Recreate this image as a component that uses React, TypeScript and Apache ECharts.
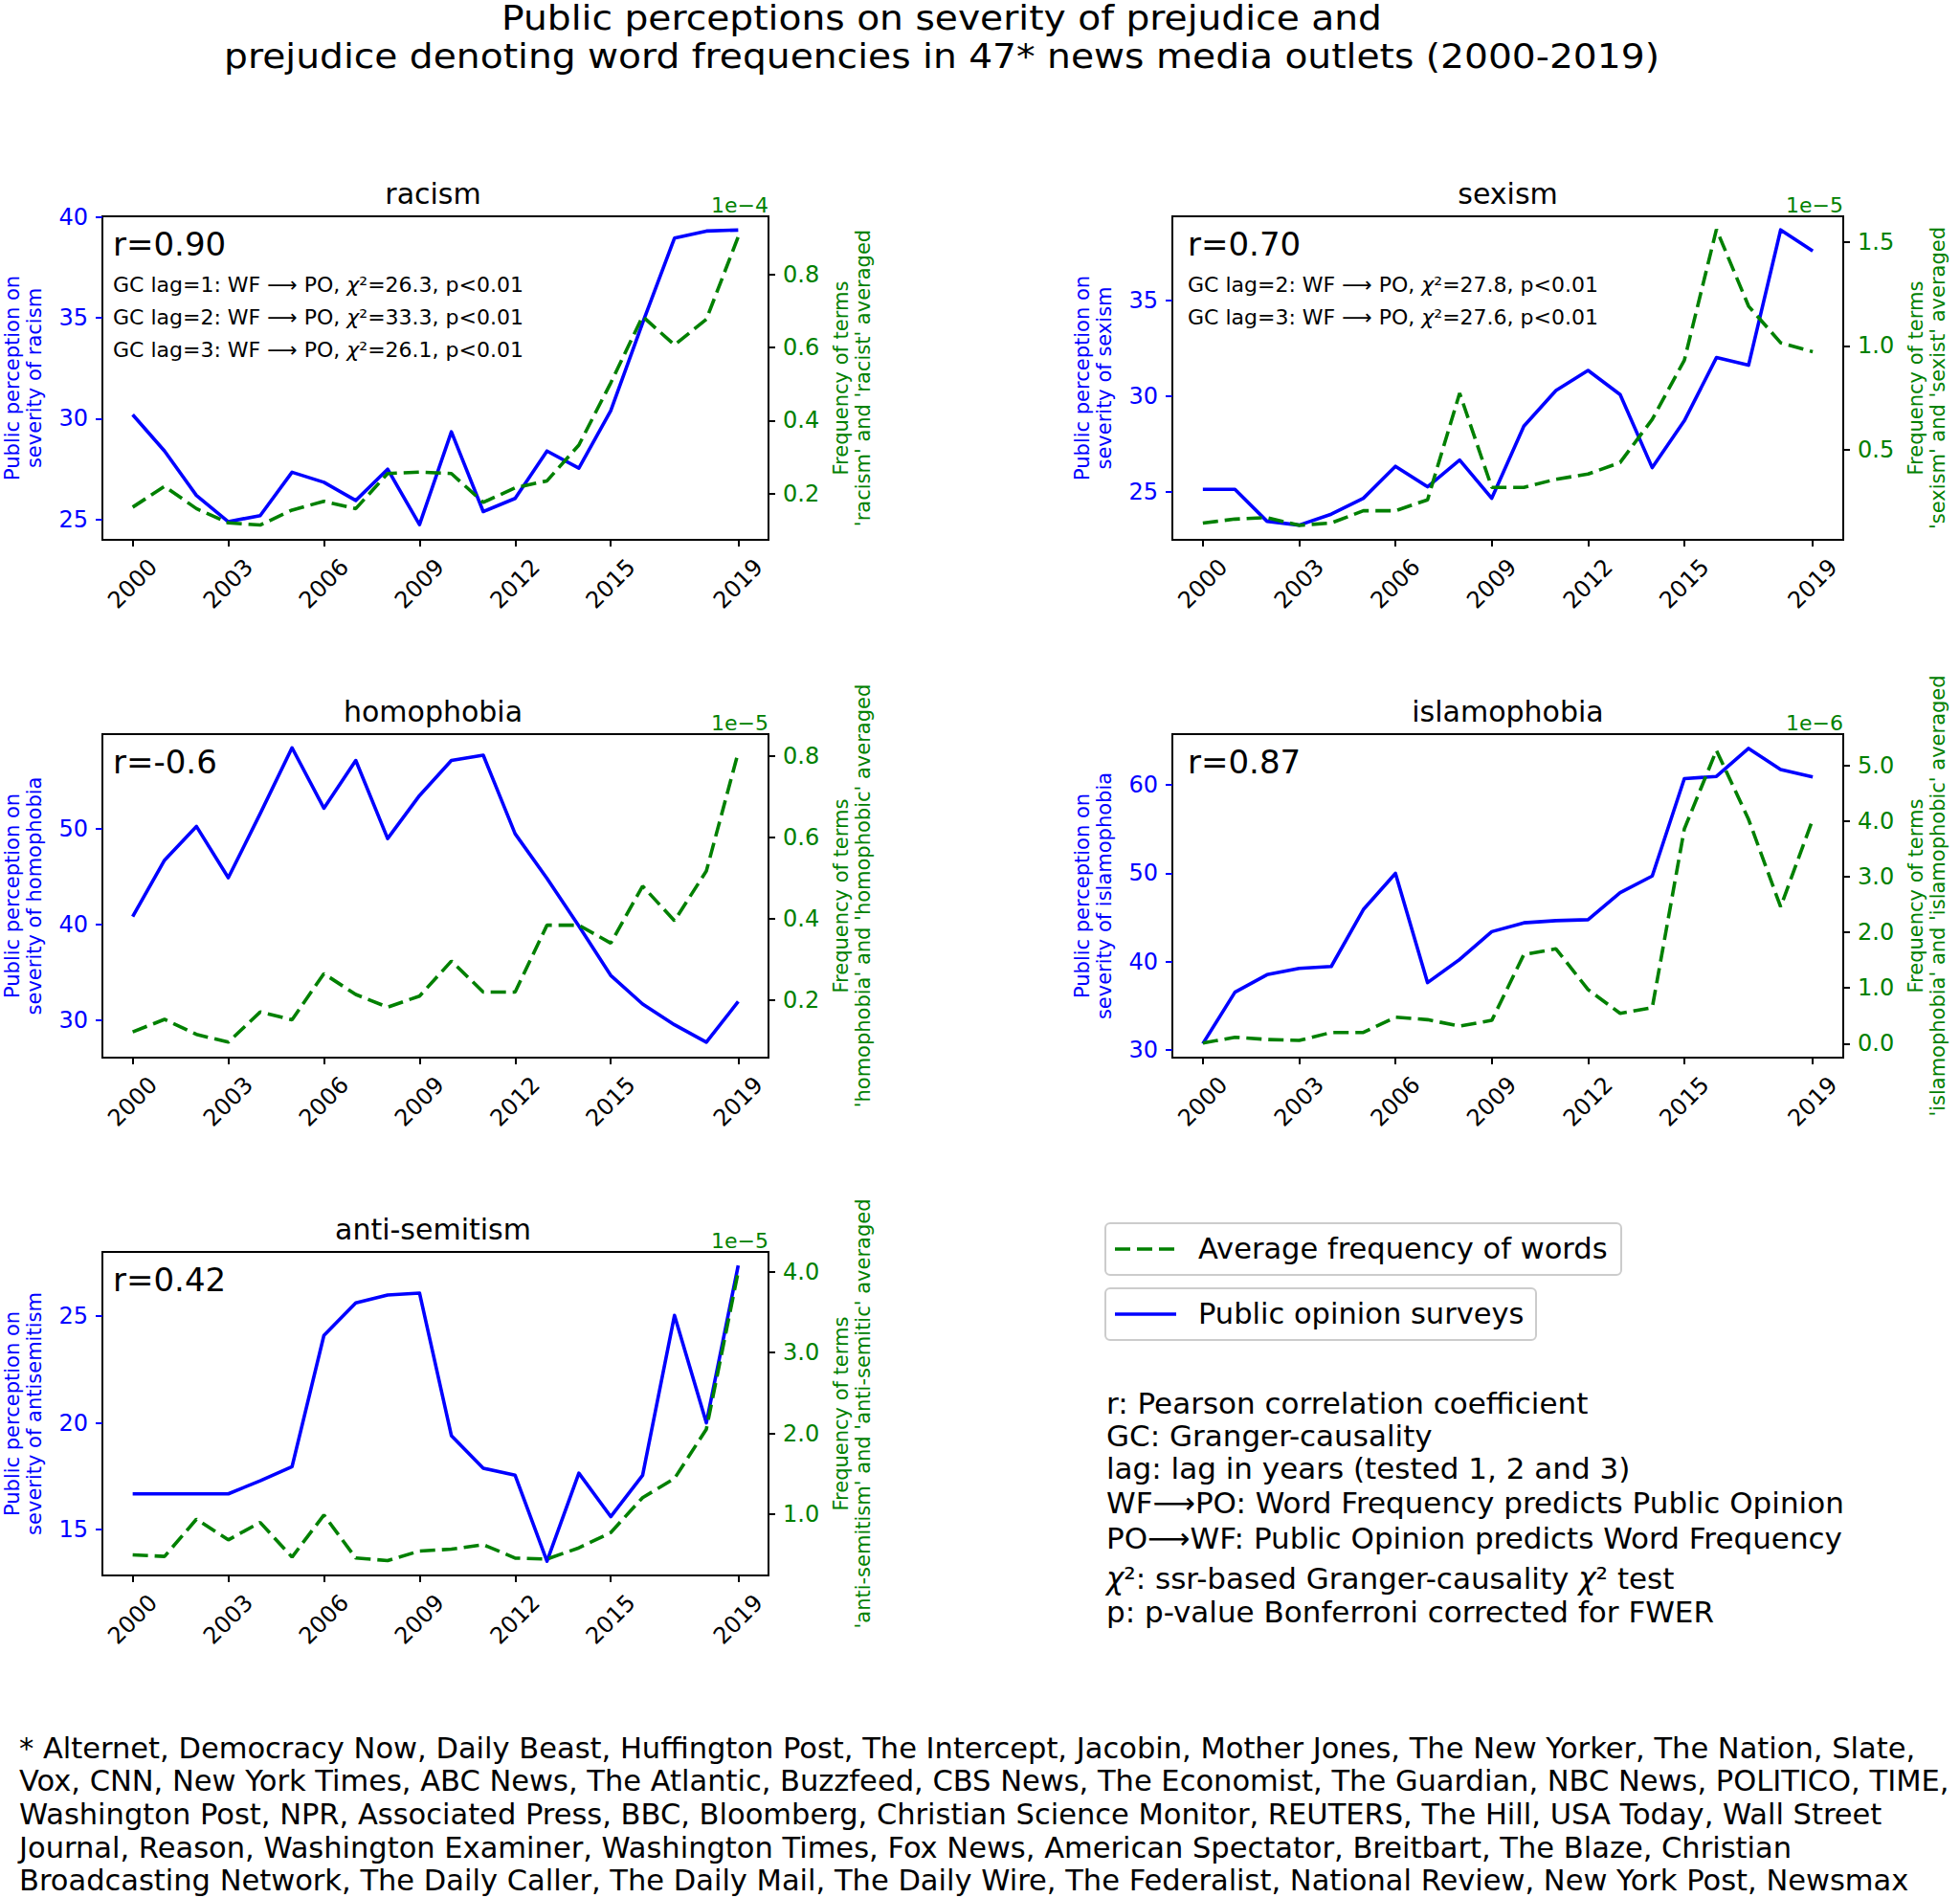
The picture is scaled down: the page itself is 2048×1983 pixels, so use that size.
import React, { useEffect, useRef } from 'react';
import * as echarts from 'echarts';

const FONT = '"DejaVu Sans", sans-serif';
const BLUE = '#0000ff';
const GREEN = '#008000';

const years = [2000, 2001, 2002, 2003, 2004, 2005, 2006, 2007, 2008, 2009, 2010, 2011, 2012, 2013, 2014, 2015, 2016, 2017, 2018, 2019];
const xTickYears = [2000, 2003, 2006, 2009, 2012, 2015, 2019];

// Public opinion (left axis) and word frequency (right axis, scaled by the offset shown above the axis)
const racismPO = [30.2, 28.4, 26.2, 24.9, 25.2, 27.35, 26.85, 25.95, 27.5, 24.75, 29.35, 25.4, 26.05, 28.4, 27.55, 30.4, 34.75, 38.95, 39.3, 39.35];
const racismWF = [0.163, 0.22, 0.159, 0.12, 0.114, 0.155, 0.179, 0.159, 0.255, 0.259, 0.255, 0.176, 0.216, 0.235, 0.333, 0.503, 0.685, 0.607, 0.677, 0.903];
const sexismPO = [25.12, 25.12, 23.45, 23.25, 23.82, 24.65, 26.32, 25.25, 26.65, 24.65, 28.42, 30.28, 31.33, 30.07, 26.25, 28.7, 32.0, 31.6, 38.67, 37.57];
const sexismWF = [0.146, 0.165, 0.172, 0.135, 0.146, 0.205, 0.205, 0.258, 0.772, 0.318, 0.318, 0.357, 0.382, 0.438, 0.646, 0.931, 1.562, 1.192, 1.015, 0.972];
const homophobiaPO = [40.83, 46.73, 50.27, 44.9, 51.6, 58.5, 52.17, 57.17, 49.0, 53.5, 57.17, 57.73, 49.5, 44.83, 39.83, 34.67, 31.67, 29.5, 27.67, 31.93];
const homophobiaWF = [0.122, 0.153, 0.116, 0.097, 0.171, 0.152, 0.265, 0.214, 0.183, 0.21, 0.296, 0.22, 0.22, 0.384, 0.384, 0.34, 0.48, 0.395, 0.517, 0.808];
const islamophobiaPO = [30.72, 36.55, 38.53, 39.25, 39.46, 45.9, 50.0, 37.63, 40.25, 43.4, 44.4, 44.65, 44.76, 47.82, 49.7, 60.72, 60.97, 64.14, 61.76, 60.9];
const islamophobiaWF = [0.01, 0.114, 0.074, 0.057, 0.2, 0.2, 0.474, 0.43, 0.314, 0.417, 1.6, 1.703, 0.971, 0.543, 0.646, 3.857, 5.269, 4.029, 2.457, 4.029];
const antisemitismPO = [16.67, 16.67, 16.67, 16.67, 17.28, 17.94, 24.1, 25.63, 26.0, 26.09, 19.4, 17.87, 17.54, 13.51, 17.64, 15.6, 17.54, 25.04, 20.0, 27.39];
const antisemitismWF = [0.5, 0.48, 0.94, 0.685, 0.9, 0.472, 0.992, 0.46, 0.429, 0.547, 0.57, 0.626, 0.46, 0.448, 0.586, 0.775, 1.207, 1.443, 2.053, 4.0];

// tick labels
const racismLeftTicks = [25, 30, 35, 40];
const racismRightTicks = [0.2, 0.4, 0.6, 0.8];
const sexismLeftTicks = [25, 30, 35];
const sexismRightTicks = [0.5, 1.0, 1.5];
const homophobiaLeftTicks = [30, 40, 50];
const homophobiaRightTicks = [0.2, 0.4, 0.6, 0.8];
const islamophobiaLeftTicks = [30, 40, 50, 60];
const islamophobiaRightTicks = [0, 1, 2, 3, 4, 5];
const antisemitismLeftTicks = [15, 20, 25];
const antisemitismRightTicks = [1, 2, 3, 4];

const panelTitles = ['racism', 'sexism', 'homophobia', 'islamophobia', 'anti-semitism'];
const rTexts = ['r=0.90', 'r=0.70', 'r=-0.6', 'r=0.87', 'r=0.42'];
const offsetTexts = ['1e\u22124', '1e\u22125', '1e\u22125', '1e\u22126', '1e\u22125'];
const leftNames = [
  'Public perception on\nseverity of racism',
  'Public perception on\nseverity of sexism',
  'Public perception on\nseverity of homophobia',
  'Public perception on\nseverity of islamophobia',
  'Public perception on\nseverity of antisemitism',
];
const rightNames = [
  "Frequency of terms\n'racism' and 'racist' averaged",
  "Frequency of terms\n'sexism' and 'sexist' averaged",
  "Frequency of terms\n'homophobia' and 'homophobic' averaged",
  "Frequency of terms\n'islamophobia' and 'islamophobic' averaged",
  "Frequency of terms\n'anti-semitism' and 'anti-semitic' averaged",
];
const gcTexts = [
  [
    'GC lag=1: WF \u27F6 PO, {i|\u03C7}\u00B2=26.3, p<0.01',
    'GC lag=2: WF \u27F6 PO, {i|\u03C7}\u00B2=33.3, p<0.01',
    'GC lag=3: WF \u27F6 PO, {i|\u03C7}\u00B2=26.1, p<0.01',
  ],
  [
    'GC lag=2: WF \u27F6 PO, {i|\u03C7}\u00B2=27.8, p<0.01',
    'GC lag=3: WF \u27F6 PO, {i|\u03C7}\u00B2=27.6, p<0.01',
  ],
  [],
  [],
  [],
];
const titleLines = [
  'Public perceptions on severity of prejudice and',
  'prejudice denoting word frequencies in 47* news media outlets (2000-2019)',
];
const legendLabels = ['Average frequency of words', 'Public opinion surveys'];
const noteLines = [
  'r: Pearson correlation coefficient',
  'GC: Granger-causality',
  'lag: lag in years (tested 1, 2 and 3)',
  'WF\u27F6PO: Word Frequency predicts Public Opinion',
  'PO\u27F6WF: Public Opinion predicts Word Frequency',
  '{i|\u03C7}\u00B2: ssr-based Granger-causality {i|\u03C7}\u00B2 test',
  'p: p-value Bonferroni corrected for FWER',
];
const footnoteLines = [
  '* Alternet, Democracy Now, Daily Beast, Huffington Post, The Intercept, Jacobin, Mother Jones, The New Yorker, The Nation, Slate,',
  'Vox, CNN, New York Times, ABC News, The Atlantic, Buzzfeed, CBS News, The Economist, The Guardian, NBC News, POLITICO, TIME,',
  'Washington Post, NPR, Associated Press, BBC, Bloomberg, Christian Science Monitor, REUTERS, The Hill, USA Today, Wall Street',
  'Journal, Reason, Washington Examiner, Washington Times, Fox News, American Spectator, Breitbart, The Blaze, Christian',
  'Broadcasting Network, The Daily Caller, The Daily Mail, The Daily Wire, The Federalist, National Review, New York Post, Newsmax',
];

const poSeries = [racismPO, sexismPO, homophobiaPO, islamophobiaPO, antisemitismPO];
const wfSeries = [racismWF, sexismWF, homophobiaWF, islamophobiaWF, antisemitismWF];
const leftTicks = [racismLeftTicks, sexismLeftTicks, homophobiaLeftTicks, islamophobiaLeftTicks, antisemitismLeftTicks];
const rightTicks = [racismRightTicks, sexismRightTicks, homophobiaRightTicks, islamophobiaRightTicks, antisemitismRightTicks];

// layout (pixels) and axis extents
const panelLayout = [
  { left: 102, top: 226, lmin: 24.0, lmax: 40.03, rmin: 0.0736, rmax: 0.959 },
  { left: 1225, top: 226, lmin: 22.48, lmax: 39.38, rmin: 0.065, rmax: 1.625 },
  { left: 102, top: 767, lmin: 26.06, lmax: 59.93, rmin: 0.059, rmax: 0.853 },
  { left: 1225, top: 767, lmin: 29.14, lmax: 65.76, rmin: -0.252, rmax: 5.56 },
  { left: 102, top: 1308, lmin: 12.84, lmax: 28.02, rmin: 0.245, rmax: 4.244 },
];
const PW = 701;
const PH = 338;

function txt(text: string, x: number, y: number, size: number, extra: any = {}) {
  const { fill = '#000', align = 'left', valign = 'middle', italicRich = false, scaleX = 1 } = extra;
  const style: any = {
    text,
    fontSize: size,
    fontFamily: FONT,
    fill,
    textAlign: align,
    textVerticalAlign: valign,
  };
  if (italicRich) {
    style.rich = { i: { fontStyle: 'italic', fontSize: size, fontFamily: FONT, fill } };
  }
  return { type: 'text', x, y, scaleX, silent: true, style };
}

export default function App() {
  const ref = useRef<HTMLDivElement>(null);
  useEffect(() => {
    if (!ref.current) return;
    const chart = echarts.init(ref.current, undefined, { renderer: 'svg' });

    const grid = panelLayout.map((p) => ({
      left: p.left,
      top: p.top,
      width: PW,
      height: PH,
      show: true,
      borderColor: '#000',
      borderWidth: 2,
      backgroundColor: 'transparent',
      containLabel: false,
    }));

    const xAxis = panelLayout.map((p, i) => ({
      type: 'value',
      gridIndex: i,
      min: 1999.05,
      max: 2019.95,
      splitLine: { show: false },
      axisLine: { show: false, onZero: false },
      axisTick: { show: true, length: 7, lineStyle: { color: '#000', width: 2 }, customValues: xTickYears },
      axisLabel: {
        customValues: xTickYears,
        rotate: 45,
        align: 'center',
        verticalAlign: 'middle',
        margin: 46,
        fontSize: 24,
        color: '#000',
        fontFamily: FONT,
        formatter: (v: number) => String(v),
      },
    }));

    const yAxis: any[] = [];
    panelLayout.forEach((p, i) => {
      yAxis.push({
        type: 'value',
        gridIndex: i,
        position: 'left',
        min: p.lmin,
        max: p.lmax,
        splitLine: { show: false },
        axisLine: { show: false },
        axisTick: { show: true, length: 7, lineStyle: { color: BLUE, width: 2 }, customValues: leftTicks[i] },
        axisLabel: {
          customValues: leftTicks[i],
          color: BLUE,
          fontSize: 24,
          margin: 15,
          fontFamily: FONT,
          formatter: (v: number) => String(Math.round(v)),
        },
        name: leftNames[i],
        nameLocation: 'middle',
        nameRotate: 90,
        nameGap: 60,
        nameTextStyle: { color: BLUE, fontSize: 21, lineHeight: 23, fontFamily: FONT },
      });
      yAxis.push({
        type: 'value',
        gridIndex: i,
        position: 'right',
        min: p.rmin,
        max: p.rmax,
        splitLine: { show: false },
        axisLine: { show: false },
        axisTick: { show: true, length: 7, lineStyle: { color: '#000', width: 2 }, customValues: rightTicks[i] },
        axisLabel: {
          customValues: rightTicks[i],
          color: GREEN,
          fontSize: 24,
          margin: 15,
          fontFamily: FONT,
          formatter: (v: number) => v.toFixed(1),
        },
        name: rightNames[i],
        nameLocation: 'middle',
        nameRotate: 90,
        nameGap: 64,
        nameTextStyle: { color: GREEN, fontSize: 21, lineHeight: 23, fontFamily: FONT },
      });
    });

    const series: any[] = [];
    panelLayout.forEach((p, i) => {
      series.push({
        type: 'line',
        name: legendLabels[1],
        xAxisIndex: i,
        yAxisIndex: 2 * i,
        data: years.map((y, k) => [y, poSeries[i][k]]),
        showSymbol: false,
        symbol: 'none',
        lineStyle: { color: BLUE, width: 3.6, join: 'round' },
        z: 2,
      });
      series.push({
        type: 'line',
        name: legendLabels[0],
        xAxisIndex: i,
        yAxisIndex: 2 * i + 1,
        data: years.map((y, k) => [y, wfSeries[i][k]]),
        showSymbol: false,
        symbol: 'none',
        lineStyle: { color: GREEN, width: 3.6, type: [16, 7], cap: 'butt' },
        z: 3,
      });
    });

    const graphics: any[] = [];
    graphics.push(txt(titleLines[0], 984, 19, 35, { align: 'center', scaleX: 1.12 }));
    graphics.push(txt(titleLines[1], 984, 59, 35, { align: 'center', scaleX: 1.12 }));
    panelLayout.forEach((p, i) => {
      graphics.push(txt(panelTitles[i], p.left + PW / 2, p.top - 24, 30, { align: 'center' }));
      graphics.push(txt(rTexts[i], p.left + 16, p.top + 29, 34));
      graphics.push(txt(offsetTexts[i], p.left + PW, p.top - 1, 22, { align: 'right', valign: 'bottom', fill: GREEN }));
      gcTexts[i].forEach((g, k) => {
        graphics.push(txt(g, p.left + 16, p.top + 71 + 34 * k, 22, { italicRich: true }));
      });
    });

    // legend boxes
    const legendBoxes = [
      { x: 1155, y: 1278, w: 539, h: 54 },
      { x: 1155, y: 1346, w: 450, h: 54 },
    ];
    legendBoxes.forEach((b, k) => {
      graphics.push({
        type: 'rect',
        silent: true,
        shape: { x: b.x, y: b.y, width: b.w, height: b.h, r: 5 },
        style: { fill: '#fff', stroke: '#cccccc', lineWidth: 2 },
      });
      const cy = b.y + b.h / 2;
      graphics.push({
        type: 'line',
        silent: true,
        shape: { x1: 1165, y1: cy, x2: 1229, y2: cy },
        style: k === 0
          ? { stroke: GREEN, lineWidth: 3.6, lineDash: [16, 7] }
          : { stroke: BLUE, lineWidth: 3.6 },
      });
      graphics.push(txt(legendLabels[k], 1252, cy - 1, 30.5));
    });

    const noteYs = [1466, 1500, 1534, 1570, 1607, 1649, 1684];
    noteLines.forEach((t, k) => graphics.push(txt(t, 1156, noteYs[k], 31, { italicRich: true })));

    const footYs = [1826, 1860, 1895, 1930, 1964];
    footnoteLines.forEach((t, k) => graphics.push(txt(t, 20, footYs[k], 30.5)));

    chart.setOption({
      animation: false,
      backgroundColor: '#fff',
      textStyle: { fontFamily: FONT },
      grid,
      xAxis,
      yAxis,
      series,
      graphic: { elements: graphics },
    });

    return () => chart.dispose();
  }, []);

  return (
    <div
      ref={ref}
      style={{ position: 'absolute', left: 0, top: 0, width: 2048, height: 1983, background: '#fff' }}
    />
  );
}
